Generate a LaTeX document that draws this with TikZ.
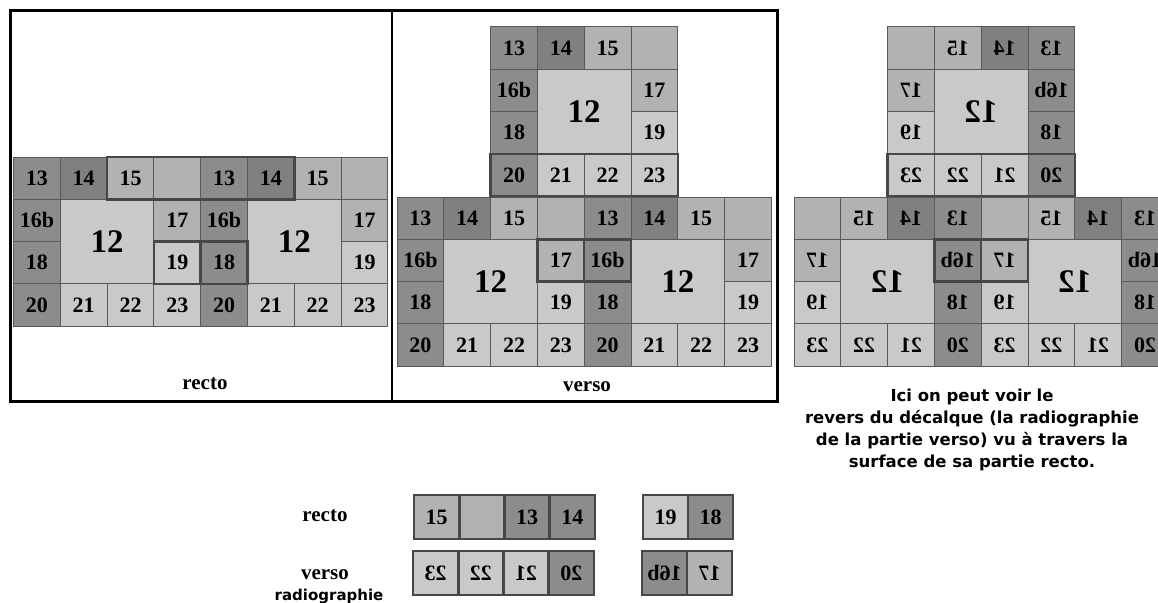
\documentclass[tikz,border=0pt]{standalone}
\usepackage{fontspec}
\setmainfont{Liberation Serif}
\newfontfamily\sansbold{DejaVu Sans}
\usepackage{graphicx}
\definecolor{cD}{gray}{0.55}
\definecolor{cDD}{gray}{0.50}
\definecolor{cM}{gray}{0.70}
\definecolor{cL}{gray}{0.79}
\definecolor{cline}{gray}{0.35}
\definecolor{cthick}{gray}{0.28}
\newcommand\cw{46.8}
\newcommand\rh{42.3}
\tikzset{
  cell/.style={draw=cline, line width=1pt, inner sep=0pt, outer sep=0pt, anchor=north west,
    minimum width=46.8pt, minimum height=42.3pt, text=black,
    font=\bfseries\fontsize{22}{24}\selectfont},
  bigcell/.style={cell, minimum width=93.6pt, minimum height=84.6pt,
    font=\bfseries\fontsize{33}{36}\selectfont},
  thickline/.style={draw=cthick, line width=2.5pt},
  stripcell/.style={draw=cthick, line width=2.5pt, inner sep=0pt, outer sep=0pt, anchor=north west,
    minimum width=45pt, minimum height=44pt, text=black,
    font=\bfseries\fontsize{22}{24}\selectfont},
  label/.style={font=\bfseries\fontsize{21}{24}\selectfont, anchor=base},
  para/.style={font=\sansbold\bfseries\fontsize{16.5}{22}\selectfont, align=center},
  frame/.style={draw=black, line width=3pt},
}
% #1 prefix, #2 x0, #3 y0, #4 mirror flag (0/1)
\newcommand\mytile[4]{%
  \foreach \c/\r/\col/\lab in {0/0/cD/13, 1/0/cDD/14, 2/0/cM/15, 3/0/cM/{}, 0/1/cD/16b, 3/1/cM/17,
      0/2/cD/18, 3/2/cL/19, 0/3/cD/20, 1/3/cL/21, 2/3/cL/22, 3/3/cL/23}{%
    \pgfmathsetmacro\cc{#4==1 ? 3-\c : \c}%
    \node[cell, fill=\col] (#1-\c-\r) at ({#2+\cc*\cw},{#3+\r*\rh})
      {\ifnum#4=1 \reflectbox{\lab}\else\lab\fi};
  }%
  \node[bigcell, fill=cL] (#1-12) at ({#2+\cw},{#3+\rh}) {\ifnum#4=1 \reflectbox{12}\else 12\fi};%
}
\begin{document}
\begin{tikzpicture}[x=1pt,y=-1pt]
\clip (0,0) rectangle (1158,602);
\fill[white] (0,0) rectangle (1158,602);

% ---------- recto panel
\mytile{r1}{13.5}{157}{0}
\mytile{r2}{200.7}{157}{0}
\draw[thickline] (r1-2-0.north west) rectangle (r2-1-0.south east);
\draw[thickline] (r1-3-2.north west) rectangle (r1-3-2.south east);
\draw[thickline] (r2-0-2.north west) rectangle (r2-0-2.south east);
\node[label] (lrecto) at (205,389) {recto};

% ---------- verso panel
\mytile{vt}{490.6}{27}{0}
\mytile{v1}{397}{197}{0}
\mytile{v2}{584.2}{197}{0}
\draw[thickline] (vt-0-3.north west) rectangle (vt-3-3.south east);
\draw[thickline] (v1-3-1.north west) rectangle (v1-3-1.south east);
\draw[thickline] (v2-0-1.north west) rectangle (v2-0-1.south east);
\node[label] (lverso) at (587,391) {verso};

% ---------- frames
\draw[frame] (10,11) rectangle (777,401);
\draw[frame, line width=2.5pt] (392,11) -- (392,401);

% ---------- mirrored panel
\mytile{mt}{887.6}{27}{1}
\mytile{m1}{794}{197}{1}
\mytile{m2}{981.2}{197}{1}
\draw[thickline] (mt-3-3.north west) rectangle (mt-0-3.south east);
\draw[thickline] (m1-0-1.north west) rectangle (m1-0-1.south east);
\draw[thickline] (m2-3-1.north west) rectangle (m2-3-1.south east);
\node[para, anchor=north] (ptext) at (972,385)
  {Ici on peut voir le\\ revers du décalque (la radiographie\\ de la partie verso) vu à travers la\\ surface de sa partie recto.};

% ---------- bottom strips
\node[stripcell, fill=cM] (s1) at (414,495) {15};
\node[stripcell, fill=cM] (s2) at (459.3,495) {};
\node[stripcell, fill=cD] (s3) at (504.6,495) {13};
\node[stripcell, fill=cD] (s4) at (549.9,495) {14};
\node[stripcell, fill=cL] (s5) at (643,495) {19};
\node[stripcell, fill=cD] (s6) at (688,495) {18};

\node[stripcell, fill=cL] (t1) at (413,551) {\reflectbox{23}};
\node[stripcell, fill=cL] (t2) at (458.3,551) {\reflectbox{22}};
\node[stripcell, fill=cL] (t3) at (503.6,551) {\reflectbox{21}};
\node[stripcell, fill=cD] (t4) at (548.9,551) {\reflectbox{20}};
\node[stripcell, fill=cD] (t5) at (642,551) {\reflectbox{16b}};
\node[stripcell, fill=cM] (t6) at (687,551) {\reflectbox{17}};

\node[label] (brecto) at (325,521) {recto};
\node[label] (bverso) at (325,579) {verso};
\node[font=\sansbold\bfseries\fontsize{15}{18}\selectfont, anchor=base] (bradio) at (329,600) {radiographie};
\end{tikzpicture}
\end{document}
